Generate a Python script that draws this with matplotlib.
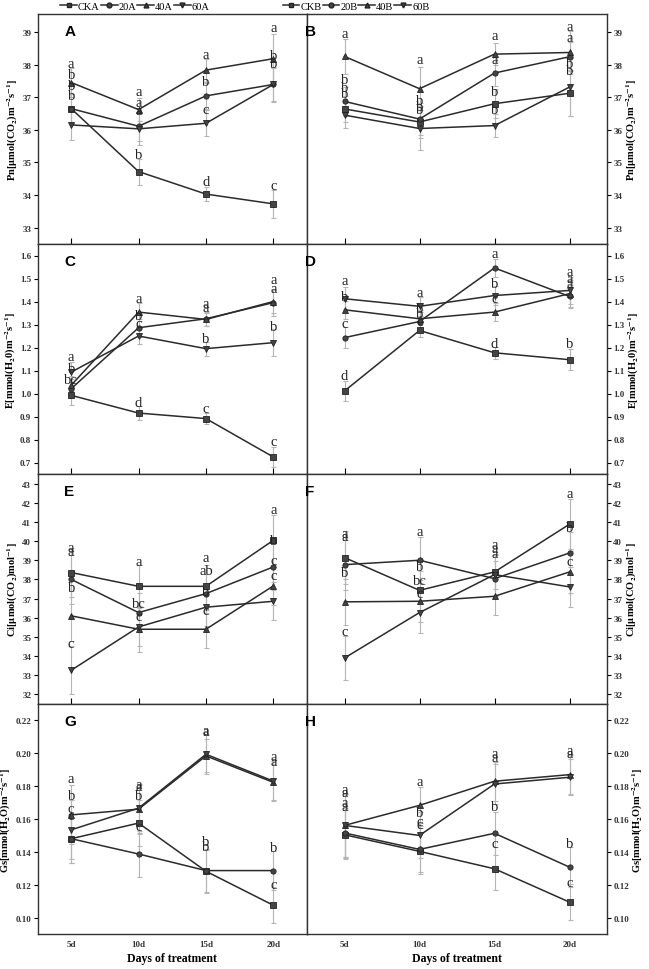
import matplotlib
matplotlib.use("Agg")
import matplotlib.pyplot as plt
from matplotlib.lines import Line2D

plt.rcParams['font.family'] = ['Liberation Serif', 'DejaVu Serif']
plt.rcParams['mathtext.fontset'] = 'stix'

days = ["5d", "10d", "15d", "20d"]
names_a = ["CKA", "20A", "40A", "60A"]
names_b = ["CKB", "20B", "40B", "60B"]

# Pn
pn_a = [[36.65, 34.72, 34.03, 33.73],
        [36.65, 36.11, 37.04, 37.39],
        [37.45, 36.62, 37.83, 38.18],
        [36.15, 36.03, 36.20, 37.39]]
pn_a_err = [[0.45, 0.40, 0.22, 0.42],
            [0.45, 0.45, 0.40, 0.50],
            [0.45, 0.35, 0.35, 0.77],
            [0.45, 0.50, 0.40, 0.55]]
pn_b = [[36.64, 36.24, 36.80, 37.12],
        [36.87, 36.33, 37.74, 38.24],
        [38.25, 37.26, 38.32, 38.37],
        [36.45, 36.04, 36.13, 37.31]]
pn_b_err = [[0.40, 0.50, 0.45, 0.70],
            [0.45, 0.50, 0.40, 0.45],
            [0.53, 0.66, 0.33, 0.65],
            [0.40, 0.65, 0.35, 0.90]]

# E
e_a = [[0.992, 0.915, 0.891, 0.724],
       [1.021, 1.286, 1.325, 1.395],
       [1.036, 1.354, 1.322, 1.400],
       [1.093, 1.250, 1.195, 1.221]]
e_a_err = [[0.040, 0.030, 0.025, 0.045],
           [0.040, 0.040, 0.030, 0.060],
           [0.040, 0.040, 0.030, 0.050],
           [0.045, 0.035, 0.030, 0.060]]
e_b = [[1.011, 1.274, 1.177, 1.147],
       [1.243, 1.313, 1.546, 1.422],
       [1.364, 1.325, 1.354, 1.434],
       [1.412, 1.379, 1.426, 1.448]]
e_b_err = [[0.045, 0.030, 0.025, 0.045],
           [0.045, 0.040, 0.040, 0.050],
           [0.040, 0.040, 0.040, 0.060],
           [0.050, 0.040, 0.040, 0.060]]

# Ci
ci_a = [[38.36, 37.64, 37.64, 40.04],
        [38.00, 36.27, 37.26, 38.65],
        [36.10, 35.40, 35.40, 37.66],
        [33.26, 35.52, 36.55, 36.86]]
ci_a_err = [[1.30, 1.10, 1.10, 1.30],
            [1.30, 1.00, 1.00, 1.20],
            [1.30, 1.20, 1.00, 1.00],
            [1.25, 1.00, 1.00, 1.00]]
ci_b = [[39.14, 37.43, 38.39, 40.88],
        [38.77, 39.00, 38.04, 39.38],
        [36.83, 36.86, 37.12, 38.39],
        [33.90, 36.27, 38.25, 37.61]]
ci_b_err = [[1.40, 1.00, 0.90, 1.30],
            [1.30, 1.20, 0.90, 1.10],
            [1.20, 1.10, 1.00, 1.10],
            [1.15, 1.05, 1.10, 1.04]]

# Gs
gs_a = [[0.1480, 0.1575, 0.1282, 0.1075],
        [0.1480, 0.1387, 0.1286, 0.1286],
        [0.1625, 0.1660, 0.1984, 0.1823],
        [0.1534, 0.1666, 0.1994, 0.1831]]
gs_a_err = [[0.015, 0.014, 0.013, 0.011],
            [0.015, 0.014, 0.013, 0.012],
            [0.018, 0.015, 0.010, 0.011],
            [0.018, 0.015, 0.012, 0.012]]
gs_b = [[0.1504, 0.1403, 0.1297, 0.1094],
        [0.1515, 0.1415, 0.1513, 0.1307],
        [0.1561, 0.1683, 0.1830, 0.1870],
        [0.1561, 0.1500, 0.1813, 0.1854]]
gs_b_err = [[0.015, 0.014, 0.013, 0.011],
            [0.015, 0.014, 0.013, 0.012],
            [0.019, 0.011, 0.012, 0.012],
            [0.019, 0.014, 0.012, 0.011]]

# significance letters: (day index, letter, height)
let_pn_a = [(0, 'a', 38.04), (0, 'b', 37.71), (0, 'b', 37.36), (0, 'b', 37.05),
            (1, 'a', 37.18), (1, 'a', 36.85), (1, 'a', 36.58), (1, 'b', 35.23),
            (2, 'a', 38.30), (2, 'b', 37.48), (2, 'c', 36.62), (2, 'd', 34.42),
            (3, 'a', 39.13), (3, 'b', 38.27), (3, 'b', 38.04), (3, 'c', 34.30)]
let_pn_b = [(0, 'a', 38.95), (0, 'b', 37.55), (0, 'b', 37.30), (0, 'b', 37.12),
            (1, 'a', 38.17), (1, 'b', 36.90), (1, 'b', 36.72), (1, 'b', 36.62),
            (2, 'a', 38.88), (2, 'a', 38.17), (2, 'b', 37.18), (2, 'b', 36.62),
            (3, 'a', 39.18), (3, 'a', 38.83), (3, 'b', 38.02), (3, 'b', 37.83)]
let_e_a = [(0, 'a', 1.163), (0, 'b', 1.11), (0, 'bc', 1.06),
           (1, 'a', 1.412), (1, 'b', 1.337), (1, 'c', 1.303), (1, 'd', 0.963),
           (2, 'a', 1.39), (2, 'a', 1.376), (2, 'b', 1.238), (2, 'c', 0.934),
           (3, 'a', 1.496), (3, 'a', 1.458), (3, 'b', 1.293), (3, 'c', 0.79)]
let_e_b = [(0, 'a', 1.491), (0, 'b', 1.423), (0, 'c', 1.306), (0, 'd', 1.079),
           (1, 'a', 1.44), (1, 'b', 1.368), (1, 'b', 1.347), (1, 'c', 1.313),
           (2, 'a', 1.607), (2, 'b', 1.477), (2, 'c', 1.412), (2, 'd', 1.216),
           (3, 'a', 1.531), (3, 'a', 1.499), (3, 'a', 1.477), (3, 'b', 1.216)]
let_ci_a = [(0, 'a', 39.64), (0, 'a', 39.47), (0, 'b', 37.56), (0, 'c', 34.65),
            (1, 'a', 38.95), (1, 'bc', 36.75), (1, 'c', 36.04),
            (2, 'a', 39.14), (2, 'ab', 38.48), (2, 'b', 37.35), (2, 'c', 36.39),
            (3, 'a', 41.64), (3, 'b', 40.04), (3, 'c', 39.0), (3, 'c', 38.22)]
let_ci_b = [(0, 'a', 40.39), (0, 'a', 40.22), (0, 'b', 38.36), (0, 'c', 35.30),
            (1, 'a', 40.51), (1, 'b', 38.65), (1, 'bc', 37.96), (1, 'c', 37.26),
            (2, 'a', 39.82), (2, 'a', 39.61), (2, 'a', 39.35),
            (3, 'a', 42.48), (3, 'b', 40.69), (3, 'c', 38.91)]
let_gs_a = [(0, 'a', 0.1847), (0, 'b', 0.1742), (0, 'c', 0.1662), (0, 'c', 0.1621),
            (1, 'a', 0.1811), (1, 'a', 0.1800), (1, 'b', 0.1742), (1, 'c', 0.1555),
            (2, 'a', 0.2140), (2, 'a', 0.2130), (2, 'b', 0.1464), (2, 'b', 0.1434),
            (3, 'a', 0.1982), (3, 'a', 0.1952), (3, 'b', 0.1424), (3, 'c', 0.1202)]
let_gs_b = [(0, 'a', 0.1779), (0, 'a', 0.1759), (0, 'a', 0.1698), (0, 'a', 0.1677),
            (1, 'a', 0.1830), (1, 'b', 0.1637), (1, 'c', 0.1586), (1, 'c', 0.1565),
            (2, 'a', 0.1997), (2, 'a', 0.1972), (2, 'b', 0.1677), (2, 'c', 0.1453),
            (3, 'a', 0.2017), (3, 'a', 0.1997), (3, 'b', 0.1453), (3, 'c', 0.1214)]

markers = ['s', 'o', '^', 'v']
line_col = '#2b2b2b'
err_col = '#b5b5b5'

ylabels = [r'Pn[$\mathbf{\mu}$mol(CO$_\mathbf{2}$)m$^\mathbf{-2}$s$^\mathbf{-1}$]',
           r'E[mmol(H$_\mathbf{2}$0)m$^\mathbf{-2}$s$^\mathbf{-1}$]',
           r'Ci[$\mathbf{\mu}$mol(CO$_\mathbf{2}$)mol$^\mathbf{-1}$]',
           r'Gs[mmol(H$_\mathbf{2}$O)m$^\mathbf{-2}$s$^\mathbf{-1}$]']
ylims = [(32.5, 39.55), (0.65, 1.65), (31.5, 43.5), (0.09, 0.23)]
yticks = [[33, 34, 35, 36, 37, 38, 39],
          [0.7, 0.8, 0.9, 1.0, 1.1, 1.2, 1.3, 1.4, 1.5, 1.6],
          list(range(32, 44)),
          [0.10, 0.12, 0.14, 0.16, 0.18, 0.20, 0.22]]
yfmt = ['{:.0f}', '{:.1f}', '{:.0f}', '{:.2f}']

rows = [(pn_a, pn_a_err, let_pn_a, pn_b, pn_b_err, let_pn_b),
        (e_a, e_a_err, let_e_a, e_b, e_b_err, let_e_b),
        (ci_a, ci_a_err, let_ci_a, ci_b, ci_b_err, let_ci_b),
        (gs_a, gs_a_err, let_gs_a, gs_b, gs_b_err, let_gs_b)]
tags = [('A', 'B'), ('C', 'D'), ('E', 'F'), ('G', 'H')]

fig = plt.figure(figsize=(6.49, 9.70), dpi=100)
W, H = 649.0, 970.0
top_px, row_px = 15.0, 230.0
x = [1, 2, 3, 4]


def draw(ax, vals, errs, letters):
    for v, e in zip(vals, errs):
        ax.errorbar(x, v, yerr=e, fmt='none', ecolor=err_col, elinewidth=0.8,
                    capsize=1.8, capthick=0.8, zorder=1)
    for v, m in zip(vals, markers):
        ax.plot(x, v, color=line_col, lw=1.1, marker=m, ms=3.8,
                mfc='#444444', mec='#222222', mew=0.6, zorder=3)
    for d, t, yy in letters:
        ax.text(x[d], yy, t, ha='center', va='center', fontsize=10.5,
                color='#222222', zorder=4)


for r in range(4):
    va, ea, la, vb, eb, lb = rows[r]
    bottom = (H - top_px - row_px * (r + 1)) / H
    axl = fig.add_axes([37.5 / W, bottom, 269.5 / W, row_px / H])
    axr = fig.add_axes([307.0 / W, bottom, 300.0 / W, row_px / H])
    draw(axl, va, ea, la)
    draw(axr, vb, eb, lb)
    for ax, tag, side in ((axl, tags[r][0], 'left'), (axr, tags[r][1], 'right')):
        ax.set_xlim(0.5, 4.5)
        ax.set_ylim(*ylims[r])
        ax.set_yticks(yticks[r])
        ax.set_yticklabels([yfmt[r].format(t) for t in yticks[r]],
                           fontsize=6.5, fontweight='bold', color='#333333')
        ax.set_xticks(x)
        for s in ax.spines.values():
            s.set_linewidth(1.0)
            s.set_color('#333333')
        if side == 'right':
            ax.yaxis.tick_right()
            ax.yaxis.set_label_position('right')
        ax.tick_params(axis='y', direction='out', length=3, width=0.8, pad=1.5)
        ax.set_ylabel(ylabels[r], fontsize=7.5, fontweight='bold', labelpad=1.5,
                      rotation=90)
        ax.text(0.1 if side == 'left' else -0.005, 0.955, tag,
                transform=ax.transAxes, fontsize=11, fontweight='bold',
                family='Liberation Sans', ha='left', va='top')
        if r < 3:
            ax.tick_params(axis='x', direction='in', length=4, width=0.8,
                           labelbottom=False)
        else:
            ax.tick_params(axis='x', direction='in', length=0, pad=4)
            ax.set_xticklabels(days, fontsize=6.5, fontweight='bold',
                               color='#333333')
            ax.set_xlabel('Days of treatment', fontsize=8.5, fontweight='bold',
                          labelpad=3)

handles_a = [Line2D([], [], color=line_col, lw=1.1, marker=m, ms=3.5,
                    mfc='#444444', mec='#222222') for m in markers]
fig.legend(handles_a, names_a, loc='center', bbox_to_anchor=(135 / W, 1 - 7 / H),
           ncol=4, frameon=False, fontsize=7.5, handlelength=1.6,
           handletextpad=0.1, columnspacing=0.1, borderpad=0)
fig.legend(handles_a, names_b, loc='center', bbox_to_anchor=(356 / W, 1 - 7 / H),
           ncol=4, frameon=False, fontsize=7.5, handlelength=1.6,
           handletextpad=0.1, columnspacing=0.1, borderpad=0)

fig.savefig('out.png', dpi=100)
